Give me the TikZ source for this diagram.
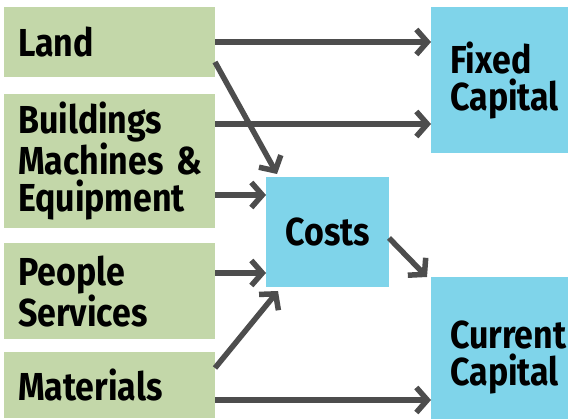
\documentclass[tikz,border=0pt]{standalone}
\usepackage{fontspec}
\setmainfont{Fira Sans}[FakeStretch=0.87]
\usetikzlibrary{arrows.meta}
\definecolor{inputgreen}{HTML}{C3D7A9}
\definecolor{capblue}{HTML}{7FD4EA}
\definecolor{arrowgray}{HTML}{4D4D4D}
\hbadness=10000 \hfuzz=100pt
\tikzset{
  inbox/.style={shape=rectangle,fill=inputgreen,anchor=north west,inner sep=0pt,
    text width=183pt,align=left,font=\bfseries\fontsize{39}{37}\selectfont},
  capbox/.style={shape=rectangle,fill=capblue,anchor=north west,inner sep=0pt,
    font=\bfseries\fontsize{39}{37}\selectfont},
  flow/.style={draw=arrowgray,line width=5.5pt,-{Straight Barb[length=11pt,width=25pt,line width=5.5pt]}}
}
\begin{document}
\begin{tikzpicture}[x=1pt,y=-1pt]
 \useasboundingbox (0,0) rectangle (568,419);
 % inputs
 \node (land) at (4,7) [inbox,minimum width=211pt,minimum height=70pt] {Land};
 \node (bldg) at (4,94) [inbox,minimum width=211pt,minimum height=134pt] {Buildings\\Machines~\&\\Equipment};
 \node (ppl) at (4,243) [inbox,minimum width=211pt,minimum height=96pt] {People\\Services};
 \node (mat) at (4,352) [inbox,minimum width=211pt,minimum height=66pt] {Materials};
 % outputs
 \node (costs) at (266,177) [capbox,minimum width=123pt,minimum height=110pt,align=center] {Costs};
 \node (fixed) at (431,7) [capbox,minimum width=140pt,minimum height=146pt,text width=102pt,align=left] {Fixed\\Capital};
 \node (curr) at (431,277) [capbox,minimum width=140pt,minimum height=160pt,text width=102pt,align=left] {Current\\Capital};
 % connectors
 \coordinate (l1) at (215,42);
 \coordinate (l2) at (215,62);
 \coordinate (b1) at (215,124);
 \coordinate (b2) at (215,195);
 \coordinate (p1) at (215,273);
 \coordinate (m1) at (215,368);
 \coordinate (m2) at (215,400);
 \coordinate (c1) at (389,238);
 \draw[flow] (l1) -- (l1 -| fixed.west);
 \draw[flow] (b1) -- (b1 -| fixed.west);
 \draw[flow] (l2) -- (277,174);
 \draw[flow] (b2) -- (b2 -| costs.west);
 \draw[flow] (p1) -- (p1 -| costs.west);
 \draw[flow] (m1) -- (278,291);
 \draw[flow] (m2) -- (m2 -| curr.west);
 \draw[flow] (c1) -- (427,277);
\end{tikzpicture}
\end{document}
